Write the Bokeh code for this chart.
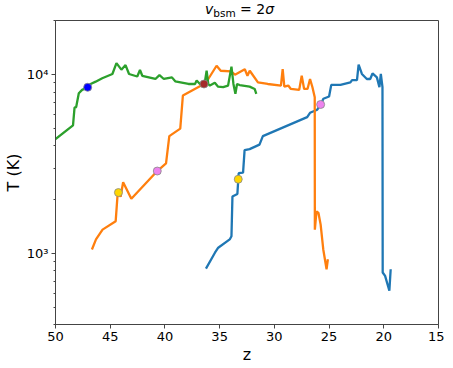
from bokeh.plotting import figure
from bokeh.models import Range1d, FixedTicker, Div
from bokeh.layouts import column
from bokeh.embed import file_html
from bokeh.resources import INLINE

# ---- data ----
green_z = [50.0, 48.4, 48.26, 48.11, 47.87, 47.57, 47.06, 46.79, 46.33, 45.73, 44.8, 44.43, 43.98, 43.6,
           43.28, 42.53, 42.28, 42.07, 40.87, 40.5, 40.1, 39.36, 39.06, 37.85, 37.25, 37.1, 36.8, 36.43,
           36.34, 36.19, 36.04, 35.89, 35.44, 35.14, 34.68, 34.23, 33.92, 33.74, 33.56, 33.41, 33.17,
           32.26, 31.8, 31.65]
green_T = [4360, 5210, 6540, 6590, 7870, 8220, 8500, 8870, 9140, 9550, 10090, 11600, 10670, 11320,
           10090, 9770, 10620, 9860, 9460, 9950, 9460, 9660, 9180, 8870, 8870, 9270, 8870, 8870,
           9180, 10520, 8870, 8690, 9000, 8570, 8510, 8690, 11100, 8870, 7820, 8870, 8750,
           8570, 8320, 7820]

orange_z = [46.67, 46.3, 45.7, 44.5, 44.34, 44.2, 44.05, 43.82, 43.07, 40.7, 39.9, 39.6, 38.6, 38.36,
            36.43, 36.04, 35.28, 34.9, 33.96, 33.6, 32.7, 32.46, 32.25, 32.04, 31.5, 30.6, 29.4,
            29.24, 29.09, 28.73, 28.49, 27.73, 27.5, 27.28, 26.97, 26.74, 26.52, 26.31, 26.3,
            26.15, 25.97, 25.77, 25.53, 25.23, 25.11]
orange_T = [1052, 1197, 1358, 1514, 2080, 2190, 2075, 2500, 2020, 2890, 3190, 4530, 4990, 7640,
            8870, 9460, 11220, 10520, 10430, 10000, 10730, 9870, 10520, 10090, 9060, 8870, 8690,
            10740, 8570, 8690, 8320, 8220, 9860, 8320, 8320, 9460, 8510, 7480, 1358,
            1718, 1683, 1449, 1052, 815, 927]

blue_z = [36.25, 35.43, 35.13, 34.08, 33.92, 33.83, 33.38, 33.26, 32.86, 32.72, 32.26, 31.36, 31.05,
          27.0, 26.74, 26.08, 25.77, 25.52, 25.0, 24.8, 23.96, 23.05, 22.9, 22.45, 22.3, 22.0,
          21.55, 21.24, 21.03, 20.63, 20.4, 20.27, 20.12, 20.1, 19.88, 19.49, 19.37]
blue_T = [822, 1009, 1076, 1197, 1247, 2080, 2150, 2810, 2830, 3780, 3830, 4060, 4530,
          5790, 6120, 6370, 6810, 7330, 7550, 8770, 8770, 9060, 9330, 9330, 11380, 10090,
          9460, 9460, 10160, 9660, 8510, 10090, 8510, 782, 748, 618, 815]

marker_z = [47.06, 36.43, 44.25, 33.3, 40.7, 25.77]
marker_T = [8500, 8870, 2190, 2600, 2890, 6810]
marker_c = ["blue", "brown", "gold", "gold", "violet", "violet"]

x_ticks = [50, 45, 40, 35, 30, 25, 20, 15]
y_ticks = [1000, 10000]
y_minor = [400, 500, 600, 700, 800, 900, 2000, 3000, 4000, 5000, 6000, 7000, 8000, 9000, 20000]
y_labels = {1000: "10³", 10000: "10⁴"}

FONT = "DejaVu Sans"
FW, FH = 383, 304
ML, MR, MT, MB = 48, 6, 1, 38
TITLE_H = 19

p = figure(frame_width=FW, frame_height=FH, output_backend="svg", toolbar_location=None,
           title=None,
           x_range=Range1d(50, 15), y_range=Range1d(400, 20100), y_axis_type="log",
           min_border_left=ML, min_border_right=MR, min_border_top=MT, min_border_bottom=MB,
           background_fill_color="white", border_fill_color="white")

p.xgrid.visible = False
p.ygrid.visible = False
p.outline_line_color = "#444444"
p.outline_line_width = 1

p.xaxis.ticker = FixedTicker(ticks=x_ticks)
p.yaxis.ticker = FixedTicker(ticks=y_ticks, minor_ticks=y_minor)
p.yaxis.major_label_overrides = y_labels

for ax in (p.xaxis, p.yaxis):
    ax.axis_line_color = "#444444"
    ax.major_tick_line_color = "#444444"
    ax.minor_tick_line_color = "#444444"
    ax.major_tick_in = 0
    ax.major_tick_out = 4
    ax.minor_tick_in = 0
    ax.minor_tick_out = 2
    ax.major_label_text_font = FONT
    ax.major_label_text_font_size = "13px"
    ax.major_label_text_color = "black"
    ax.axis_label_text_font = FONT
    ax.axis_label_text_font_size = "16px"
    ax.axis_label_text_font_style = "normal"
    ax.axis_label_text_color = "black"
    ax.major_label_standoff = 3
    ax.axis_label_standoff = 1
p.xaxis.minor_tick_line_color = None
p.xaxis.axis_label = "z"
p.yaxis.axis_label = "T (K)"

p.line(blue_z, blue_T, line_color="#1f77b4", line_width=2.3)
p.line(orange_z, orange_T, line_color="#ff7f0e", line_width=2.3)
p.line(green_z, green_T, line_color="#2ca02c", line_width=2.3)
p.scatter(marker_z, marker_T, size=8, fill_color=marker_c, line_color="#888888", line_width=0.8)

# title v_bsm = 2σ as an HTML line centred over the frame
total_w = ML + FW + MR
pad = 2 * (ML + FW / 2) - total_w
title_html = (
    f'<div style="display:block;width:{total_w}px;box-sizing:border-box;'
    f'font-family:\'DejaVu Sans\';font-size:14px;line-height:{TITLE_H}px;'
    f'text-align:center;padding-left:{pad}px;white-space:nowrap;color:black;">'
    '<i>v</i><span style="font-size:10.5px;position:relative;top:3px;">bsm</span>'
    ' = 2<i>σ</i></div>'
)
title = Div(text=title_html, width=total_w, height=TITLE_H, margin=(0, 0, 0, 0))

layout = column(title, p, spacing=0)
open("out.html", "w").write(file_html(layout, INLINE))
